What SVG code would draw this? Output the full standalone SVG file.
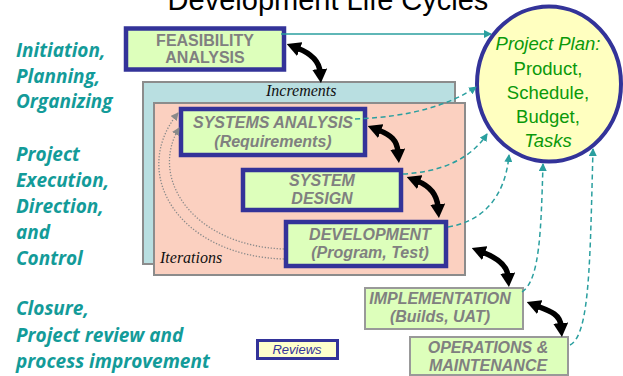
<svg xmlns="http://www.w3.org/2000/svg" width="623" height="376" viewBox="0 0 623 376">
  <style>
    .phase { font-family: "Open Sans", "Noto Sans", sans-serif; font-weight: 700; font-style: italic; font-size: 19px; fill: #139b99; }
    .frame { stroke: #8c8c8c; stroke-width: 2; }
    .stage-blue { fill: #ddffbb; stroke: #333399; stroke-width: 4.5; }
    .stage-plain { fill: #ddffbb; stroke: #999999; stroke-width: 2; }
    .lbl { font-family: "Liberation Sans", Arial, sans-serif; font-weight: 700; font-size: 16px; fill: #808080; text-anchor: middle; }
    .lbl-i { font-style: italic; }
    .serif-i { font-family: "Liberation Serif", "Times New Roman", serif; font-style: italic; font-size: 16px; fill: #111; }
    .plan { font-family: "Liberation Sans", Arial, sans-serif; font-size: 18.5px; fill: #0a990a; text-anchor: middle; }
    .swing { fill: none; stroke: #000; stroke-width: 5.5; marker-start: url(#swingHead); marker-end: url(#swingHead); }
    .feed { fill: none; stroke: #2a9f9f; stroke-width: 1.5; marker-end: url(#feedHead); }
    .feed-d { stroke-dasharray: 5 3.5; }
    .loop { fill: none; stroke: #8a8a8a; stroke-width: 1.3; stroke-dasharray: 1.3 1.7; marker-end: url(#loopHead); }
  </style>
  <defs>
    <marker id="swingHead" viewBox="0 0 14 15" refX="3" refY="7.5" markerWidth="14" markerHeight="15" markerUnits="userSpaceOnUse" orient="auto-start-reverse">
      <path d="M0,0 L14,7.5 L0,15 Z" fill="#000"/>
    </marker>
    <marker id="feedHead" viewBox="0 0 8 8" refX="7" refY="4" markerWidth="8" markerHeight="8" markerUnits="userSpaceOnUse" orient="auto">
      <path d="M0,0 L8,4 L0,8 Z" fill="#2a9f9f"/>
    </marker>
    <marker id="loopHead" viewBox="0 0 8 8" refX="7" refY="4" markerWidth="8" markerHeight="8" markerUnits="userSpaceOnUse" orient="auto">
      <path d="M0,0 L8,4 L0,8 Z" fill="#8a8a8a"/>
    </marker>
  </defs>

  <rect width="623" height="376" fill="#ffffff"/>

  <!-- heading, partly above the top edge -->
  <text x="328" y="10" font-family="Liberation Sans, Arial, sans-serif" font-size="29" fill="#000" text-anchor="middle">Development Life Cycles</text>

  <!-- phase column -->
  <g id="phases">
    <text class="phase" x="16" y="57">Initiation,</text>
    <text class="phase" x="16" y="83">Planning,</text>
    <text class="phase" x="16" y="108">Organizing</text>
    <text class="phase" x="16" y="161">Project</text>
    <text class="phase" x="16" y="187">Execution,</text>
    <text class="phase" x="16" y="213">Direction,</text>
    <text class="phase" x="16" y="239">and</text>
    <text class="phase" x="16" y="265">Control</text>
    <text class="phase" x="16" y="315">Closure,</text>
    <text class="phase" x="16" y="342">Project review and</text>
    <text class="phase" x="16" y="368">process improvement</text>
  </g>

  <!-- increments / iterations frames -->
  <g id="increments">
    <rect class="frame" x="143" y="82" width="312" height="182" fill="#b9dfe1"/>
    <text class="serif-i" x="266" y="96">Increments</text>
  </g>
  <g id="iterations">
    <rect class="frame" x="154" y="103" width="311" height="172" fill="#fbd0c0"/>
    <text class="serif-i" x="160" y="263">Iterations</text>
  </g>

  <!-- stages -->
  <g id="feasibility">
    <rect class="stage-blue" x="126" y="28.5" width="158" height="41" stroke-width="5"/>
    <text class="lbl" x="205" y="46">FEASIBILITY</text>
    <text class="lbl" x="205" y="63">ANALYSIS</text>
  </g>
  <g id="systems-analysis">
    <rect class="stage-blue" x="181" y="109" width="184" height="46"/>
    <text class="lbl lbl-i" x="273" y="128">SYSTEMS ANALYSIS</text>
    <text class="lbl lbl-i" x="273" y="147">(Requirements)</text>
  </g>
  <g id="system-design">
    <rect class="stage-blue" x="243" y="170" width="158" height="40"/>
    <text class="lbl lbl-i" x="322" y="186">SYSTEM</text>
    <text class="lbl lbl-i" x="322" y="204">DESIGN</text>
  </g>
  <g id="development">
    <rect class="stage-blue" x="286" y="222" width="160" height="44"/>
    <text class="lbl lbl-i" x="370" y="240">DEVELOPMENT</text>
    <text class="lbl lbl-i" x="370" y="258">(Program, Test)</text>
  </g>
  <g id="implementation">
    <rect class="stage-plain" x="365" y="288" width="158" height="41"/>
    <text class="lbl lbl-i" x="440" y="304">IMPLEMENTATION</text>
    <text class="lbl lbl-i" x="440" y="322">(Builds, UAT)</text>
  </g>
  <g id="operations">
    <rect class="stage-plain" x="410" y="337" width="158" height="38"/>
    <text class="lbl lbl-i" x="488" y="353">OPERATIONS &amp;</text>
    <text class="lbl lbl-i" x="488" y="371">MAINTENANCE</text>
  </g>

  <!-- project plan -->
  <g id="project-plan">
    <ellipse cx="549" cy="84" rx="72" ry="77.5" fill="#ffffc0" stroke="#333399" stroke-width="4"/>
    <text class="plan" x="548" y="50" font-style="italic">Project Plan:</text>
    <text class="plan" x="548" y="75">Product,</text>
    <text class="plan" x="548" y="99">Schedule,</text>
    <text class="plan" x="548" y="123">Budget,</text>
    <text class="plan" x="548" y="147" font-style="italic">Tasks</text>
  </g>

  <!-- legend -->
  <g id="reviews">
    <rect x="257.5" y="340.5" width="80" height="18" fill="#ffffcc" stroke="#333399" stroke-width="3"/>
    <text x="297" y="354" font-family="Liberation Sans, Arial, sans-serif" font-style="italic" font-size="13" fill="#333399" text-anchor="middle">Reviews</text>
  </g>

  <g id="connectors">
    <!-- stage hand-offs -->
    <path class="swing" d="M297 48 C310 53 319 60 320 72"/>
    <path class="swing" d="M378 130 C391 135 397 140 398 152"/>
    <path class="swing" d="M417 181 C430 186 437 195 438 207"/>
    <path class="swing" d="M482 252 C495 257 507 264 508 276"/>
    <path class="swing" d="M537 306 C550 311 560 314 561 326"/>

    <!-- feedback into the plan -->
    <path class="feed" d="M281 34 L491 34"/>
    <path class="feed feed-d" d="M355 119 C410 117 450 105 476 87"/>
    <path class="feed feed-d" d="M403 174 C440 172 470 160 487 134"/>
    <path class="feed feed-d" d="M448 227 C480 222 505 200 509 155"/>
    <path class="feed feed-d" d="M522 292 C540 280 541 230 543 164"/>
    <path class="feed feed-d" d="M570 345 C590 335 590 260 593 149"/>

    <!-- iteration loops -->
    <path class="loop" d="M284 259 C180 256 128 175 178 113"/>
    <path class="loop" d="M284 249 C195 246 148 180 179 128"/>
  </g>
</svg>
